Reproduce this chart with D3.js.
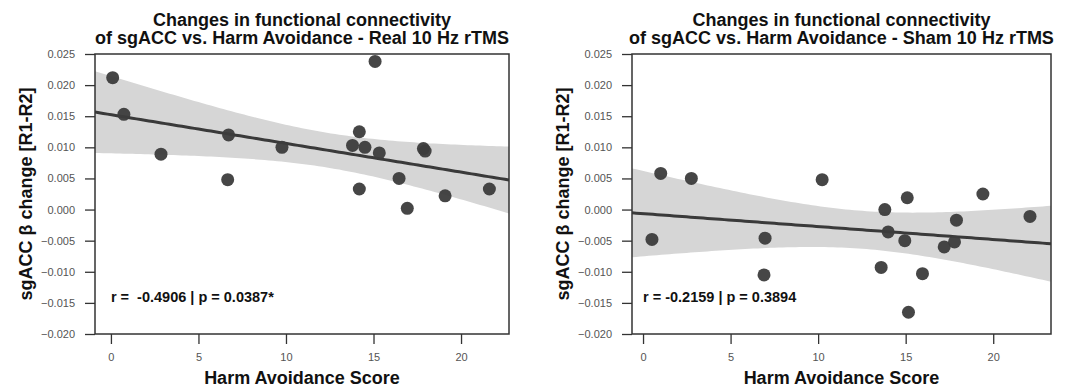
<!DOCTYPE html>
<html lang="en">
<head>
    <meta charset="UTF-8">
    <title>sgACC connectivity vs. Harm Avoidance</title>
    <script src="https://d3js.org/d3.v7.min.js"></script>
    <style>
        body { margin: 0; background: #fff; }
        svg { display: block; font-family: "Liberation Sans", Arial, sans-serif; }
        .tick text { fill: #555; font-size: 11px; }
        .tick line { stroke: #333; stroke-width: 1.3; }
        .title { font-size: 18px; font-weight: bold; fill: #111; }
        .axis-title { font-size: 18px; font-weight: bold; fill: #111; }
        .stat { font-size: 14.5px; font-weight: bold; fill: #111; white-space: pre; }
    </style>
</head>
<body>
    <svg width="1077" height="387"></svg>

    <script>
        // Harm Avoidance scores and sgACC beta change
        const realScores = [0.1, 0.74, 2.86, 6.72, 6.67, 9.77, 13.8, 14.19, 14.51, 15.09, 15.33, 14.19, 16.46, 17.85, 17.95, 16.93, 19.09, 21.62];
        const realBeta   = [0.0212, 0.0153, 0.0089, 0.0120, 0.0048, 0.0100, 0.0103, 0.0125, 0.0100, 0.0238, 0.0091, 0.0033, 0.0050, 0.0098, 0.0094, 0.0002, 0.0022, 0.0033];

        const shamScores = [1.01, 2.76, 10.23, 15.09, 19.41, 0.51, 6.97, 6.91, 13.81, 14.0, 13.6, 14.95, 15.16, 15.96, 17.2, 17.79, 17.9, 22.1];
        const shamBeta   = [0.0058, 0.0050, 0.0048, 0.0019, 0.0025, -0.0048, -0.0046, -0.0105, 0.0000, -0.0036, -0.0093, -0.0050, -0.0165, -0.0103, -0.0060, -0.0052, -0.0017, -0.0011];

        const titles = [
            ["Changes in functional connectivity", "of sgACC vs. Harm Avoidance - Real 10 Hz rTMS"],
            ["Changes in functional connectivity", "of sgACC vs. Harm Avoidance - Sham 10 Hz rTMS"]
        ];
        const statLabels = ["r =  -0.4906 | p = 0.0387*", "r = -0.2159 | p = 0.3894"];

        const xTicks = [0, 5, 10, 15, 20];
        const yTicks = [-0.020, -0.015, -0.010, -0.005, 0.000, 0.005, 0.010, 0.015, 0.020, 0.025];
        const xDomains = [[-0.91, 22.74], [-0.63, 23.3]];
        const yDomain = [-0.020, 0.025];

        const svg = d3.select("svg");
        const tCrit = 2.1199; // t(0.975, df = 16)

        const panels = [
            { left: 95, right: 509, xs: realScores, ys: realBeta },
            { left: 632, right: 1051, xs: shamScores, ys: shamBeta }
        ];
        const plotTop = 54, plotBottom = 334;

        panels.forEach((p, i) => {
            const g = svg.append("g");
            const x = d3.scaleLinear().domain(xDomains[i]).range([p.left, p.right]);
            const y = d3.scaleLinear().domain(yDomain).range([plotBottom, plotTop]);

            // least squares fit + 95% confidence band
            const n = p.xs.length;
            const mx = d3.mean(p.xs), my = d3.mean(p.ys);
            const sxx = d3.sum(p.xs, v => (v - mx) ** 2);
            const sxy = d3.sum(p.xs, (v, k) => (v - mx) * (p.ys[k] - my));
            const slope = sxy / sxx, icpt = my - slope * mx;
            const sse = d3.sum(p.xs, (v, k) => (p.ys[k] - (icpt + slope * v)) ** 2);
            const se = Math.sqrt(sse / (n - 2));
            const grid = d3.range(0, 101).map(k => xDomains[i][0] + (xDomains[i][1] - xDomains[i][0]) * k / 100);
            const band = grid.map(v => {
                const fit = icpt + slope * v;
                const h = tCrit * se * Math.sqrt(1 / n + (v - mx) ** 2 / sxx);
                return { v, lo: fit - h, hi: fit + h, fit };
            });

            const clipId = "clip" + i;
            g.append("clipPath").attr("id", clipId)
                .append("rect").attr("x", p.left).attr("y", plotTop)
                .attr("width", p.right - p.left).attr("height", plotBottom - plotTop);

            const plot = g.append("g").attr("clip-path", `url(#${clipId})`);
            plot.append("path")
                .datum(band)
                .attr("fill", "#d6d6d6")
                .attr("d", d3.area().x(d => x(d.v)).y0(d => y(d.lo)).y1(d => y(d.hi)));

            plot.append("path")
                .datum(band)
                .attr("fill", "none")
                .attr("stroke", "#3a3a3a")
                .attr("stroke-width", 3)
                .attr("d", d3.line().x(d => x(d.v)).y(d => y(d.fit)));

            plot.selectAll("circle")
                .data(p.xs.map((v, k) => [v, p.ys[k]]))
                .enter().append("circle")
                .attr("cx", d => x(d[0]))
                .attr("cy", d => y(d[1]))
                .attr("r", 6.5)
                .attr("fill", "#3c3c3c")
                .attr("fill-opacity", 0.95);

            // frame
            g.append("rect")
                .attr("x", p.left).attr("y", plotTop)
                .attr("width", p.right - p.left).attr("height", plotBottom - plotTop)
                .attr("fill", "none").attr("stroke", "#333").attr("stroke-width", 1.5);

            // axes
            const fmt = d3.format(".3f");
            const ya = g.append("g")
                .attr("transform", `translate(${p.left},0)`)
                .call(d3.axisLeft(y).tickValues(yTicks).tickFormat(fmt).tickSize(10).tickSizeOuter(0).tickPadding(10));
            ya.select(".domain").remove();

            const xa = g.append("g")
                .attr("transform", `translate(0,${plotBottom})`)
                .call(d3.axisBottom(x).tickValues(xTicks).tickSize(10).tickSizeOuter(0).tickPadding(9));
            xa.select(".domain").remove();

            // titles
            const cx = (p.left + p.right) / 2;
            g.append("text").attr("class", "title").attr("text-anchor", "middle")
                .attr("x", cx).attr("y", 26).text(titles[i][0]);
            g.append("text").attr("class", "title").attr("text-anchor", "middle")
                .attr("x", cx).attr("y", 44).text(titles[i][1]);

            g.append("text").attr("class", "axis-title").attr("text-anchor", "middle")
                .attr("x", cx).attr("y", 384).text("Harm Avoidance Score");

            g.append("text").attr("class", "axis-title").attr("text-anchor", "middle")
                .attr("transform", `translate(${p.left - 63},${(plotTop + plotBottom) / 2}) rotate(-90)`)
                .text("sgACC β change [R1-R2]");

            g.append("text").attr("class", "stat")
                .attr("x", x(0)).attr("y", 302).text(statLabels[i]);
        });
    </script>
</body>
</html>
